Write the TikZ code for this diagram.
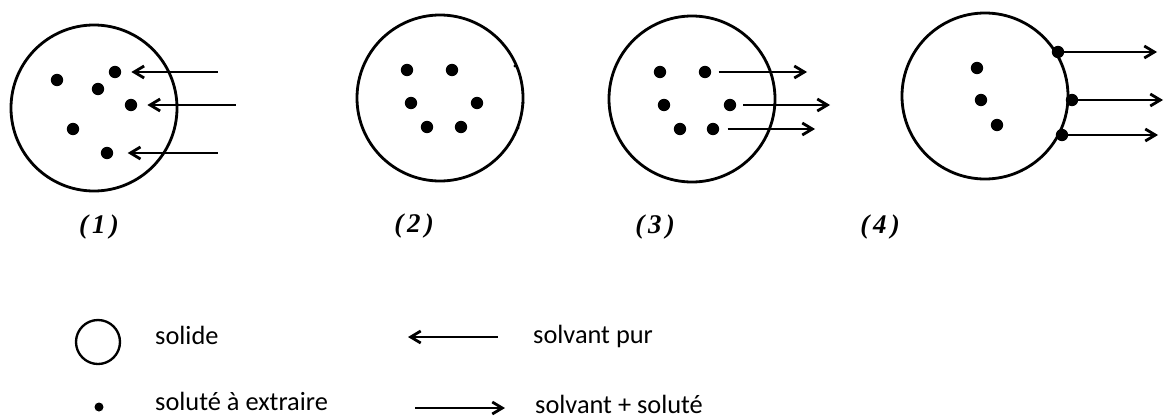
\documentclass[tikz,border=0pt]{standalone}
\usepackage{fontspec}
\setmainfont{Liberation Serif}
\newfontfamily\legendfont{Carlito}
\usetikzlibrary{arrows.meta, positioning}

\begin{document}
\begin{tikzpicture}[
    x=0.03cm, y=-0.03cm,
    grain/.style={draw, circle, line width=2.4pt, minimum size=4.98cm, inner sep=0pt},
    solute/.style={circle, fill=black, minimum size=0.37cm, inner sep=0pt},
    trace/.style={circle, fill=black, minimum size=0.1cm, inner sep=0pt},
    inflow/.style={<-, line width=2.4pt, shorten <=0.3cm, >={Straight Barb[length=3mm, width=3.6mm]}},
    outflow/.style={->, line width=2.4pt, >={Straight Barb[length=3mm, width=3.6mm]}},
    stage/.style={font=\bfseries\itshape\addfontfeature{LetterSpace=15}\fontsize{23}{27}\selectfont},
    legend/.style={anchor=base west, inner sep=0pt, font=\legendfont\fontsize{22.5}{26}\selectfont},
]
\useasboundingbox (0,0) rectangle (1165,418);
% Stage 1: pure solvent enters the solid
\node[grain] (s1) at (94,108) {};
\node[solute] (d11) at (115,72) {};
\node[solute] (d12) at (57,80) {};
\node[solute] (d13) at (98,89) {};
\node[solute] (d14) at (131,105) {};
\node[solute] (d15) at (73,129) {};
\node[solute] (d16) at (107,153) {};
\coordinate (a11) at (218,72);
\coordinate (a12) at (236,105);
\coordinate (a13) at (218,153);
\draw[inflow] (d11) -- (a11);
\draw[inflow] (d14) -- (a12);
\draw[inflow, shorten <=0.43cm] (d16) -- (a13);
\node[stage] (st1) at (99,227) {(1)};
% Stage 2: solute dissolved inside
\node[grain] (s2) at (440,98) {};
\node[solute] (d21) at (407,70) {};
\node[solute] (d22) at (452,70) {};
\node[solute] (d23) at (411,103) {};
\node[solute] (d24) at (477,103) {};
\node[solute] (d25) at (427,127) {};
\node[solute] (d26) at (461,127) {};
\node[trace] (t21) at (515,66) {};
\node[trace] (t22) at (523,103) {};
\node[trace] (t23) at (518,128) {};
\node[stage] (st2) at (414,226) {(2)};
% Stage 3: solvent and solute leave
\node[grain] (s3) at (692,99) {};
\node[solute] (d31) at (660,72) {};
\node[solute] (d32) at (705,72) {};
\node[solute] (d33) at (664,105) {};
\node[solute] (d34) at (730,105) {};
\node[solute] (d35) at (680,129) {};
\node[solute] (d36) at (713,129) {};
\coordinate (b31) at (807,72);
\coordinate (b32) at (830,105);
\coordinate (b33) at (815,129);
\draw[outflow, shorten <=0.22cm] (d32) -- (b31);
\draw[outflow, shorten <=0.2cm] (d34) -- (b32);
\draw[outflow, shorten <=0.25cm] (d36) -- (b33);
\node[stage] (st3) at (655,227) {(3)};
% Stage 4: solute reaches the surface
\node[grain] (s4) at (985,96) {};
\node[solute] (d41) at (977,68) {};
\node[solute] (d42) at (981,100) {};
\node[solute] (d43) at (997,125) {};
\node[solute] (e41) at (1058,52) {};
\node[solute] (e42) at (1072,100) {};
\node[solute] (e43) at (1062,135) {};
\coordinate (c41) at (1157,52);
\coordinate (c42) at (1163,100);
\coordinate (c43) at (1158,135);
\draw[outflow] (e41) -- (c41);
\draw[outflow] (e42) -- (c42);
\draw[outflow] (e43) -- (c43);
\node[stage] (st4) at (880,227) {(4)};
% Legend
\node[grain, minimum size=1.32cm, line width=2pt] (keysolid) at (98,342) {};
\node[solute, minimum size=0.27cm] (keydot) at (99,407) {};
\node[legend] (keysolidtext) at (155,344) {solide};
\node[legend] (keydottext) at (155,410) {soluté à extraire};
\coordinate (kin1) at (408,337);
\coordinate (kin2) at (498,337);
\coordinate (kout1) at (415,408);
\coordinate (kout2) at (505,408);
\draw[inflow, shorten <=0pt] (kin1) -- (kin2);
\draw[outflow] (kout1) -- (kout2);
\node[legend] (keyintext) at (533,343) {solvant pur};
\node[legend] (keyouttext) at (535,413) {solvant + soluté};
\end{tikzpicture}
\end{document}
